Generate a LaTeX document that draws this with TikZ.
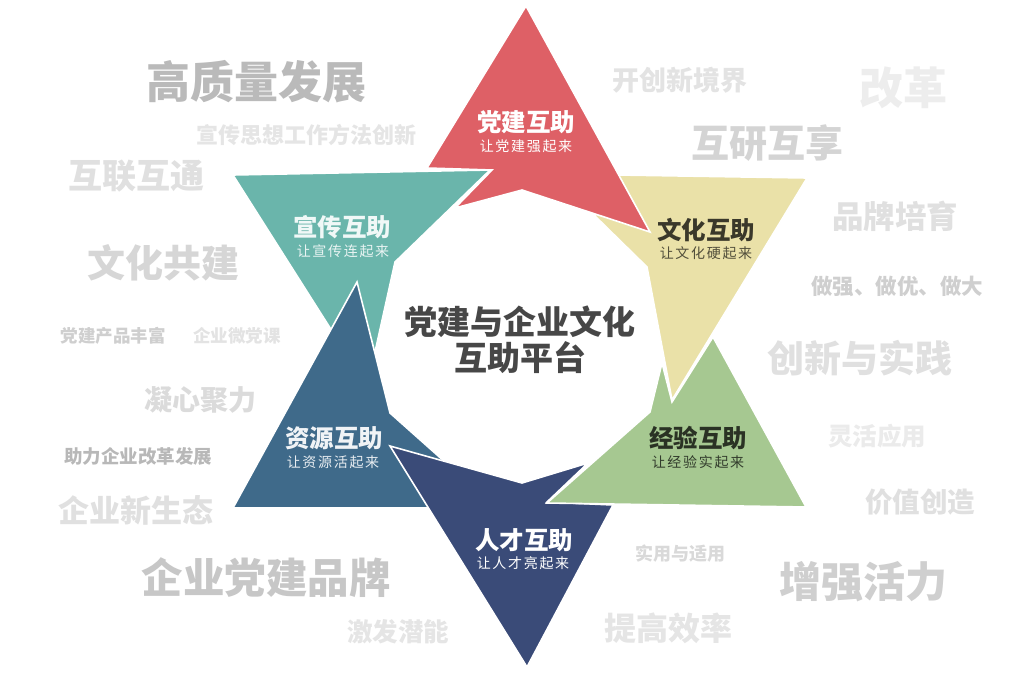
\documentclass[tikz,border=0pt]{standalone}
\usepackage{fontspec}
\newfontfamily\cjk{Noto Sans CJK SC}
\newfontfamily\cjksp[LetterSpace=12]{Noto Sans CJK SC}
\definecolor{cred}{HTML}{DE6066}
\definecolor{cteal}{HTML}{6AB5AB}
\definecolor{cyel}{HTML}{EAE1A8}
\definecolor{cgreen}{HTML}{A6C891}
\definecolor{cnavy}{HTML}{3A4B78}
\definecolor{csteel}{HTML}{3F6A8A}
\begin{document}
\begin{tikzpicture}[x=1pt,y=-1pt,
  piece/.style={draw=white,line width=1.6pt,line join=miter},
  bg/.style={inner sep=0pt,font=\cjk\bfseries\fontsize{#1}{#1}\selectfont},
  ttl/.style={inner sep=0pt,font=\cjk\bfseries\fontsize{24.5}{24.5}\selectfont},
  sub/.style={inner sep=0pt,font=\cjksp\fontsize{14}{14}\selectfont}]
\useasboundingbox[fill=white] (0,0) rectangle (1024,688);
% background words
\node[bg=44,text=black!27] (w1) at (256,82) {高质量发展};
\node[bg=22,text=black!10] (w2) at (306,135) {宣传思想工作方法创新};
\node[bg=34,text=black!12] (w3) at (136,176) {互联互通};
\node[bg=38,text=black!16] (w4) at (163,263) {文化共建};
\node[bg=17.5,text=black!19] (w5) at (113,336) {党建产品丰富};
\node[bg=17.5,text=black!11] (w6) at (237,336) {企业微党课};
\node[bg=28,text=black!14] (w7) at (200,400) {凝心聚力};
\node[bg=18.5,text=black!28] (w8) at (138,456) {助力企业改革发展};
\node[bg=31,text=black!12] (w9) at (136,510) {企业新生态};
\node[bg=41.5,text=black!22] (w10) at (266,578) {企业党建品牌};
\node[bg=25.5,text=black!10] (w11) at (398,632) {激发潜能};
\node[bg=27,text=black!11] (w12) at (680,80) {开创新境界};
\node[bg=44,text=black!7] (w13) at (903,88) {改革};
\node[bg=38,text=black!17] (w14) at (767,143) {互研互享};
\node[bg=31.5,text=black!12] (w15) at (895,216) {品牌培育};
\node[bg=21.5,text=black!19] (w16) at (897,286) {做强、做优、做大};
\node[bg=37,text=black!12] (w17) at (860,358) {创新与实践};
\node[bg=24.5,text=black!8] (w18) at (877,436) {灵活应用};
\node[bg=27.5,text=black!12] (w19) at (920,502) {价值创造};
\node[bg=18,text=black!15] (w20) at (680,554) {实用与适用};
\node[bg=42,text=black!19] (w21) at (863,582) {增强活力};
\node[bg=32,text=black!10] (w22) at (668,628) {提高效率};
% pieces
\fill[cteal,piece] (233,175) -- (490,170) -- (395,262) -- (375,352) -- (372,394) -- cycle;
\fill[csteel,piece] (357,282) -- (390,413) -- (445,462) -- (440,508) -- (233,508) -- cycle;
\fill[cnavy,piece] (390,446) -- (522,483) -- (588,463) -- (547,502) -- (613,505) -- (527,667) -- cycle;
\fill[cyel,piece] (618,175) -- (807,178) -- (672,400) -- (647,267) -- (595,216) -- (610,190) -- cycle;
\fill[cred,piece] (526,6) -- (427,168) -- (492,170) -- (455,208) -- (522,190) -- (650,232) -- cycle;
\fill[cgreen,piece] (713,337) -- (806,507) -- (547,503) -- (650,412) -- (662,363) -- (672,402) -- cycle;
% titles
\node[ttl,text=white] (t1) at (526,122) {党建互助};
\node[sub,text=white] (s1) at (526,146) {让党建强起来};
\node[ttl,text=white!90!cteal] (t2) at (342,227) {宣传互助};
\node[sub,text=white!85!cteal] (s2) at (343,251) {让宣传连起来};
\node[ttl,text=black!75!cyel] (t3) at (706,230) {文化互助};
\node[sub,text=black!65!cyel] (s3) at (706,253) {让文化硬起来};
\node[ttl,text=black!75!cgreen] (t4) at (698,438) {经验互助};
\node[sub,text=black!70!cgreen] (s4) at (698,462) {让经验实起来};
\node[ttl,text=white] (t5) at (524,540) {人才互助};
\node[sub,text=white] (s5) at (523,563) {让人才亮起来};
\node[ttl,text=white!92!csteel] (t6) at (334,438) {资源互助};
\node[sub,text=white!88!csteel] (s6) at (333,462) {让资源活起来};
% centre
\node[inner sep=0pt,text=black!72,font=\cjk\bfseries\fontsize{33}{33}\selectfont,align=center] (c) at (520,340) {党建与企业文化\\[3pt]互助平台};
\end{tikzpicture}
\end{document}
